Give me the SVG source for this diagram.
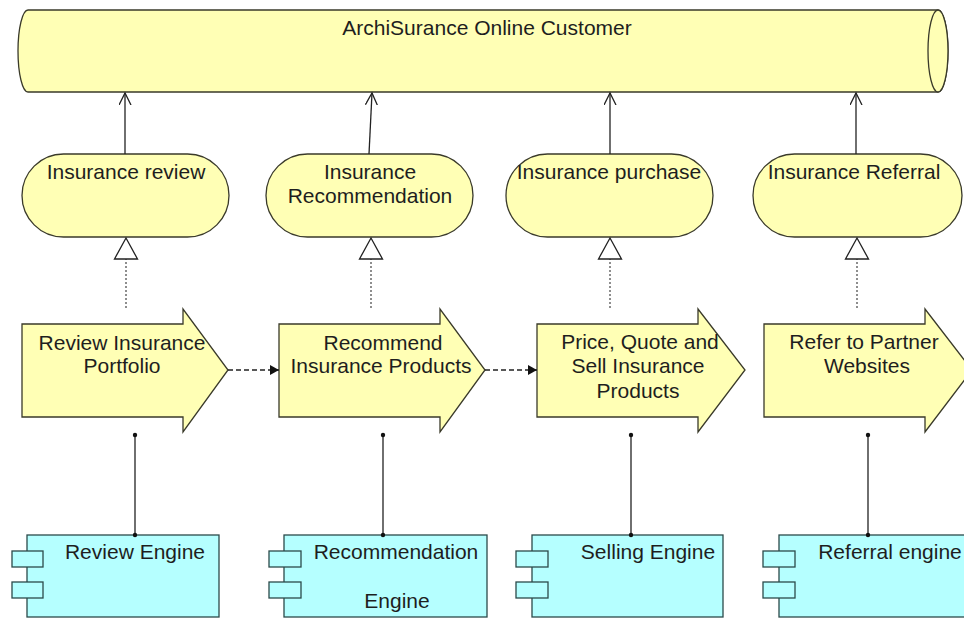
<svg xmlns="http://www.w3.org/2000/svg" width="964" height="619" viewBox="0 0 964 619">
<defs>
<style>
text{font-family:"Liberation Sans",Arial,sans-serif;font-size:21px;fill:#1e1e1e;text-anchor:middle}
.biz{fill:#ffffb5;stroke:#3a3a2a;stroke-width:1.3}
.app{fill:#b5ffff;stroke:#2c4a4a;stroke-width:1.3}
.ln{fill:none;stroke:#222;stroke-width:1.3}
.dot{fill:none;stroke:#444;stroke-width:1.2;stroke-dasharray:2 2}
.dash{fill:none;stroke:#222;stroke-width:1.3;stroke-dasharray:5 3}
</style>
<marker id="open" markerWidth="14" markerHeight="14" refX="12" refY="6" orient="auto" markerUnits="userSpaceOnUse">
<path d="M0,0 L12,6 L0,12" fill="none" stroke="#222" stroke-width="1.3"/>
</marker>
<marker id="fill" markerWidth="12" markerHeight="12" refX="9" refY="5" orient="auto" markerUnits="userSpaceOnUse">
<path d="M0,0 L9,5 L0,10 Z" fill="#111"/>
</marker>
</defs>
<rect width="964" height="619" fill="#ffffff"/>

<g id="customer">
<path class="biz" d="M28,10 L938,10 A10,41 0 0 1 938,92 L28,92 A10,41 0 0 1 28,10 Z"/>
<ellipse class="biz" cx="938" cy="51" rx="10" ry="41"/>
<text x="487" y="35">ArchiSurance Online Customer</text>
</g>

<g id="svc-review">
<rect class="biz" x="22" y="154" width="207" height="83" rx="41.5" ry="41.5"/>
<text x="126" y="179">Insurance review</text>
</g>
<g id="svc-recommendation">
<rect class="biz" x="266" y="154" width="207" height="83" rx="41.5" ry="41.5"/>
<text x="370" y="179">Insurance</text>
<text x="370" y="203">Recommendation</text>
</g>
<g id="svc-purchase">
<rect class="biz" x="506" y="154" width="207" height="83" rx="41.5" ry="41.5"/>
<text x="609" y="179">Insurance purchase</text>
</g>
<g id="svc-referral">
<rect class="biz" x="753" y="154" width="209" height="83" rx="41.5" ry="41.5"/>
<text x="854" y="179">Insurance Referral</text>
</g>

<g id="proc-review">
<polygon class="biz" points="22,324 183,324 183,309 228,370 183,432 183,417 22,417"/>
<text x="122" y="350">Review Insurance</text>
<text x="122" y="373">Portfolio</text>
</g>
<g id="proc-recommend">
<polygon class="biz" points="279,324 440,324 440,309 485,370 440,432 440,417 279,417"/>
<text x="383" y="350">Recommend</text>
<text x="381" y="373">Insurance Products</text>
</g>
<g id="proc-sell">
<polygon class="biz" points="537,324 698,324 698,309 745,370 698,432 698,417 537,417"/>
<text x="640" y="349">Price, Quote and</text>
<text x="638" y="373">Sell Insurance</text>
<text x="638" y="398">Products</text>
</g>
<g id="proc-refer">
<polygon class="biz" points="764,324 925,324 925,309 972,370 925,432 925,417 764,417"/>
<text x="864" y="349">Refer to Partner</text>
<text x="867" y="373">Websites</text>
</g>

<g id="comp-review">
<rect class="app" x="27" y="535" width="192" height="82"/>
<rect class="app" x="12" y="551" width="31" height="16"/>
<rect class="app" x="12" y="582" width="31" height="16"/>
<text x="135" y="559">Review Engine</text>
</g>
<g id="comp-recommendation">
<rect class="app" x="284" y="535" width="203" height="82"/>
<rect class="app" x="269" y="551" width="32" height="16"/>
<rect class="app" x="269" y="582" width="32" height="16"/>
<text x="396" y="559">Recommendation</text>
<text x="397" y="608">Engine</text>
</g>
<g id="comp-selling">
<rect class="app" x="532" y="535" width="191" height="82"/>
<rect class="app" x="516" y="551" width="32" height="16"/>
<rect class="app" x="516" y="582" width="32" height="16"/>
<text x="648" y="559">Selling Engine</text>
</g>
<g id="comp-referral">
<rect class="app" x="779" y="535" width="200" height="82"/>
<rect class="app" x="763" y="551" width="32" height="16"/>
<rect class="app" x="763" y="582" width="32" height="16"/>
<text x="890" y="559">Referral engine</text>
</g>

<g id="connectors">
<!-- service to customer -->
<line class="ln" x1="125" y1="154" x2="125" y2="93" marker-end="url(#open)"/>
<line class="ln" x1="369" y1="154" x2="372" y2="93" marker-end="url(#open)"/>
<line class="ln" x1="610" y1="154" x2="610" y2="93" marker-end="url(#open)"/>
<line class="ln" x1="856" y1="154" x2="856" y2="93" marker-end="url(#open)"/>
<!-- realization -->
<line class="dot" x1="126" y1="308" x2="126" y2="259"/>
<polygon points="126,238 114.5,259 137.5,259" fill="#fff" stroke="#222" stroke-width="1.3"/>
<line class="dot" x1="371" y1="308" x2="371" y2="259"/>
<polygon points="371,238 359.5,259 382.5,259" fill="#fff" stroke="#222" stroke-width="1.3"/>
<line class="dot" x1="610" y1="308" x2="610" y2="259"/>
<polygon points="610,238 598.5,259 621.5,259" fill="#fff" stroke="#222" stroke-width="1.3"/>
<line class="dot" x1="857" y1="308" x2="857" y2="259"/>
<polygon points="857,238 845.5,259 868.5,259" fill="#fff" stroke="#222" stroke-width="1.3"/>
<!-- triggering -->
<line class="dash" x1="228" y1="370" x2="279" y2="370" marker-end="url(#fill)"/>
<line class="dash" x1="485" y1="370" x2="537" y2="370" marker-end="url(#fill)"/>
<!-- assignment -->
<line class="ln" x1="135" y1="435" x2="135" y2="535"/>
<circle cx="135" cy="435" r="2.2" fill="#111"/><circle cx="135" cy="535" r="2.2" fill="#111"/>
<line class="ln" x1="383" y1="435" x2="383" y2="535"/>
<circle cx="383" cy="435" r="2.2" fill="#111"/><circle cx="383" cy="535" r="2.2" fill="#111"/>
<line class="ln" x1="631" y1="435" x2="631" y2="535"/>
<circle cx="631" cy="435" r="2.2" fill="#111"/><circle cx="631" cy="535" r="2.2" fill="#111"/>
<line class="ln" x1="868" y1="435" x2="868" y2="535"/>
<circle cx="868" cy="435" r="2.2" fill="#111"/><circle cx="868" cy="535" r="2.2" fill="#111"/>
</g>
</svg>
